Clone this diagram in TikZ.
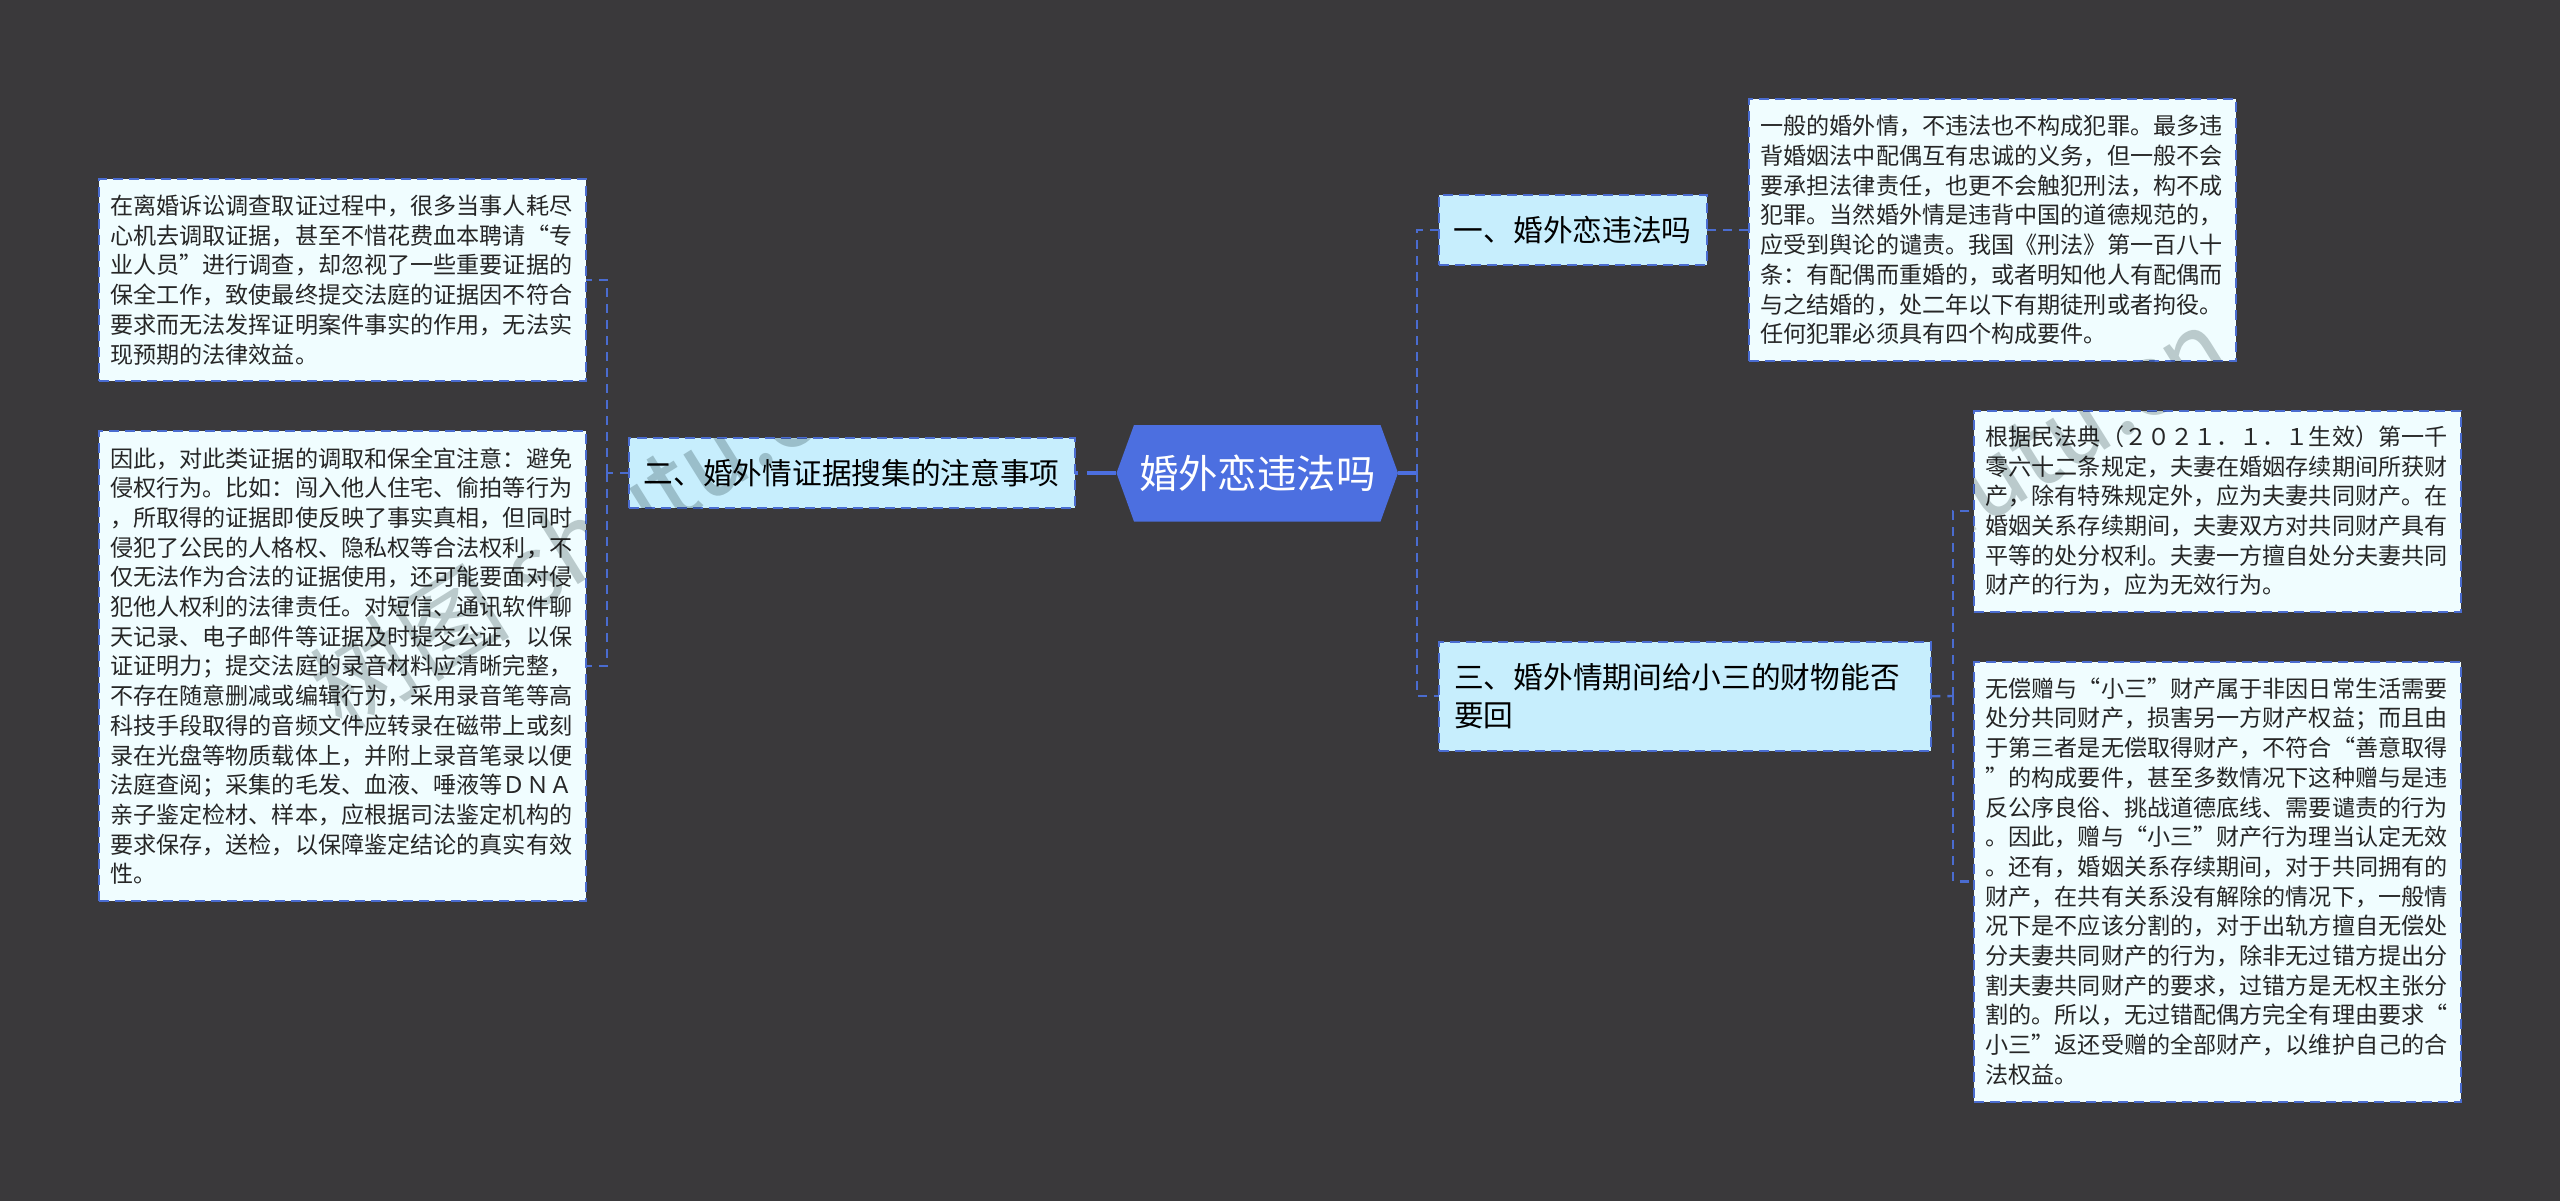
\documentclass[tikz,border=0pt]{standalone}
\usepackage{fontspec}
\setmainfont{Noto Sans CJK SC}
\definecolor{bgdark}{HTML}{3A393B}
\definecolor{rootblue}{HTML}{4C6FE0}
\definecolor{linkblue}{HTML}{4A6CD0}
\definecolor{subfill}{HTML}{C7EEFD}
\definecolor{textfill}{HTML}{F0FDFF}
\definecolor{inkdark}{HTML}{262626}
\definecolor{markgray}{HTML}{C6CCCC}
\tikzset{
  linkline/.style={draw=linkblue,line width=1.2pt,dash pattern=on 4.5pt off 3.5pt},
  rootline/.style={draw=rootblue,line width=2pt},
  rootbox/.style={text=white,font=\fontsize{19.7}{24}\selectfont,minimum width=141pt,minimum height=48.5pt,inner sep=0pt,outer sep=0pt},
  subbox/.style={draw=linkblue,fill=subfill,line width=1pt,dash pattern=on 5pt off 3pt,text=black,font=\fontsize{14.85}{19}\selectfont,align=left,inner xsep=7.5pt,inner ysep=0pt,outer sep=0pt},
  textbox/.style={draw=linkblue,fill=textfill,line width=1pt,dash pattern=on 5pt off 3pt,text=inkdark,font=\fontsize{11.55}{14.85}\selectfont,align=left,text width=232pt,minimum width=243.5pt,inner xsep=5.75pt,inner ysep=0pt,outer sep=0pt},
  markword/.style={text=markgray,font=\fontsize{50}{50}\selectfont,inner sep=0pt}
}
\begin{document}
\begin{tikzpicture}[x=0.5pt,y=-0.5pt]

\fill[bgdark] (0,0) rectangle (2560,1201);

% root hexagon, then its text
\fill[rootblue] (1116.5,473) -- (1134,425) -- (1380.5,425) -- (1398,473) -- (1380.5,521.5) -- (1134,521.5) -- cycle;
\node[rootbox] (root) at (1257.25,473) {婚外恋违法吗};

% first level
\node[subbox,minimum width=134pt,minimum height=35pt] (subone) at (1572.75,230) {一、婚外恋违法吗};
\node[subbox,minimum width=223pt,minimum height=35pt] (subtwo) at (851.75,473) {二、婚外情证据搜集的注意事项};
\node[subbox,text width=231pt,minimum height=54.5pt] (subthree) at (1685.25,696.25) {三、婚外情期间给小三的财物能否\\要回};

% second level
\node[textbox,minimum height=101pt] (leftA) at (342.25,280) {在离婚诉讼调查取证过程中，很多当事人耗尽\\
心机去调取证据，甚至不惜花费血本聘请“专\\
业人员”进行调查，却忽视了一些重要证据的\\
保全工作，致使最终提交法庭的证据因不符合\\
要求而无法发挥证明案件事实的作用，无法实\\
现预期的法律效益。};

\node[textbox,minimum height=235pt] (leftB) at (342.25,666) {因此，对此类证据的调取和保全宜注意：避免\\
侵权行为。比如：闯入他人住宅、偷拍等行为\\
，所取得的证据即使反映了事实真相，但同时\\
侵犯了公民的人格权、隐私权等合法权利，不\\
仅无法作为合法的证据使用，还可能要面对侵\\
犯他人权利的法律责任。对短信、通讯软件聊\\
天记录、电子邮件等证据及时提交公证，以保\\
证证明力；提交法庭的录音材料应清晰完整，\\
不存在随意删减或编辑行为，采用录音笔等高\\
科技手段取得的音频文件应转录在磁带上或刻\\
录在光盘等物质载体上，并附上录音笔录以便\\
法庭查阅；采集的毛发、血液、唾液等ＤＮＡ\\
亲子鉴定检材、样本，应根据司法鉴定机构的\\
要求保存，送检，以保障鉴定结论的真实有效\\
性。};

\node[textbox,minimum height=131pt] (rightC) at (1992.5,230) {一般的婚外情，不违法也不构成犯罪。最多违\\
背婚姻法中配偶互有忠诚的义务，但一般不会\\
要承担法律责任，也更不会触犯刑法，构不成\\
犯罪。当然婚外情是违背中国的道德规范的，\\
应受到舆论的谴责。我国《刑法》第一百八十\\
条：有配偶而重婚的，或者明知他人有配偶而\\
与之结婚的，处二年以下有期徒刑或者拘役。\\
任何犯罪必须具有四个构成要件。};

\node[textbox,minimum height=100.5pt] (rightD) at (2217.5,511) {根据民法典（２０２１．１．１生效）第一千\\
零六十二条规定，夫妻在婚姻存续期间所获财\\
产，除有特殊规定外，应为夫妻共同财产。在\\
婚姻关系存续期间，夫妻双方对共同财产具有\\
平等的处分权利。夫妻一方擅自处分夫妻共同\\
财产的行为，应为无效行为。};

\node[textbox,minimum height=220pt] (rightE) at (2217.5,881.5) {无偿赠与“小三”财产属于非因日常生活需要\\
处分共同财产，损害另一方财产权益；而且由\\
于第三者是无偿取得财产，不符合“善意取得\\
”的构成要件，甚至多数情况下这种赠与是违\\
反公序良俗、挑战道德底线、需要谴责的行为\\
。因此，赠与“小三”财产行为理当认定无效\\
。还有，婚姻关系存续期间，对于共同拥有的\\
财产，在共有关系没有解除的情况下，一般情\\
况下是不应该分割的，对于出轨方擅自无偿处\\
分夫妻共同财产的行为，除非无过错方提出分\\
割夫妻共同财产的要求，过错方是无权主张分\\
割的。所以，无过错配偶方完全有理由要求“\\
小三”返还受赠的全部财产，以维护自己的合\\
法权益。};

% joints of the brackets
\coordinate (rootjoint) at (1417,473);
\coordinate (leftjoint) at (607,473);
\coordinate (rightjoint) at (1953,696);

\draw[rootline] (root.east) -- (rootjoint);
\draw[rootline,dash pattern=on 14.5pt off 4.5pt] (root.west) -- (subtwo.east);
\draw[linkline] (rootjoint) |- (subone.west);
\draw[linkline] (rootjoint) |- (subthree.west);
\draw[linkline] (subone.east) -- (rightC.west);

\draw[linkline] (subtwo.west) -- (leftjoint);
\draw[linkline] (leftjoint) |- (leftA.east);
\draw[linkline] (leftjoint) |- (leftB.east);

\draw[linkline] (subthree.east) -- (rightjoint);
\draw[linkline] (rightjoint) |- (rightD.west);
\draw[linkline] (rightjoint) |- (rightE.west);

% watermark, it only shows on the light boxes
\begin{scope}[blend mode=multiply]
\clip (leftB.north west) rectangle (leftB.south east)
  (subtwo.north west) rectangle (subtwo.south east)
  (rightC.north west) rectangle (rightC.south east)
  (rightD.north west) rectangle (rightD.south east);
\node[markword,rotate=32,anchor=west] (markleft) at (322,700) {树图 shutu.cn};
\node[markword,rotate=32,anchor=west] (markright) at (1684,668) {树图 shutu.cn};
\end{scope}

\end{tikzpicture}
\end{document}
